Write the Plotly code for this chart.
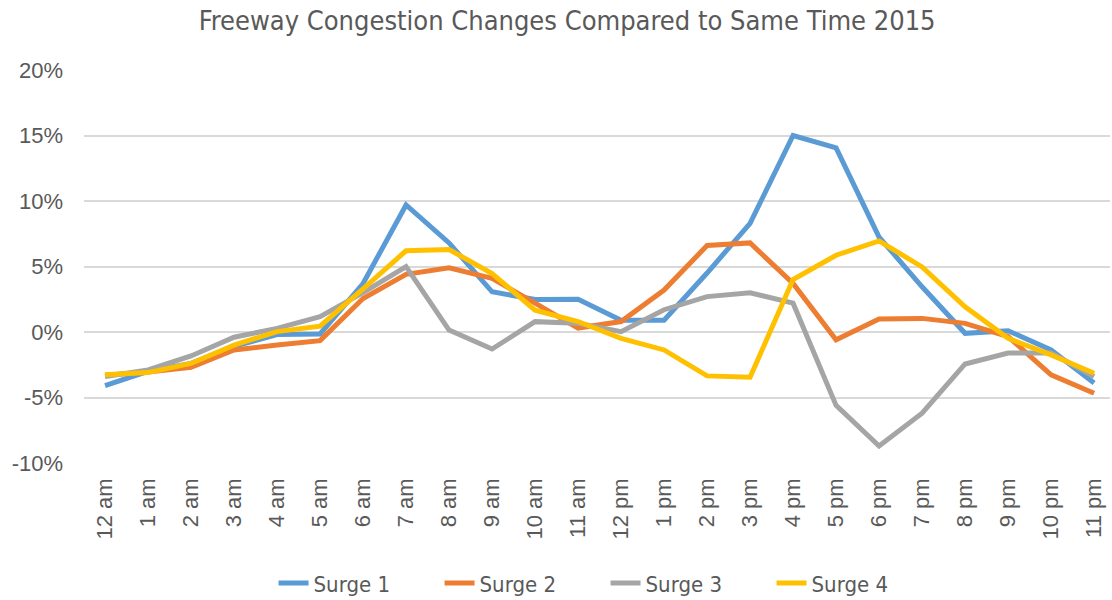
import plotly.graph_objects as go

hours = ["12 am", "1 am", "2 am", "3 am", "4 am", "5 am", "6 am", "7 am", "8 am", "9 am", "10 am", "11 am",
         "12 pm", "1 pm", "2 pm", "3 pm", "4 pm", "5 pm", "6 pm", "7 pm", "8 pm", "9 pm", "10 pm", "11 pm"]

surge1 = [-4.1, -3.0, -2.4, -1.1, -0.2, -0.15, 3.7, 9.7, 6.8, 3.07, 2.49, 2.5,
          0.9, 0.9, 4.5, 8.3, 15.0, 14.05, 7.25, 3.45, -0.1, 0.1, -1.37, -3.9]
surge2 = [-3.3, -3.05, -2.7, -1.37, -1.0, -0.66, 2.56, 4.4, 4.9, 4.1, 2.2, 0.3,
          0.8, 3.2, 6.6, 6.8, 3.7, -0.6, 1.0, 1.04, 0.66, -0.35, -3.27, -4.67]
surge3 = [-3.4, -2.9, -1.83, -0.4, 0.28, 1.17, 3.0, 5.0, 0.15, -1.3, 0.79, 0.66,
          0.03, 1.7, 2.7, 3.0, 2.2, -5.6, -8.7, -6.2, -2.44, -1.6, -1.6, -3.4]
surge4 = [-3.27, -3.1, -2.4, -1.0, 0.03, 0.45, 3.3, 6.2, 6.3, 4.46, 1.67, 0.8,
          -0.48, -1.37, -3.35, -3.45, 4.0, 5.86, 6.95, 4.97, 1.93, -0.48, -1.75, -3.15]

y_tick_values = [-10, -5, 0, 5, 10, 15, 20]
y_tick_labels = ["-10%", "-5%", "0%", "5%", "10%", "15%", "20%"]

names = ["Surge 1", "Surge 2", "Surge 3", "Surge 4"]
series = [surge1, surge2, surge3, surge4]
colors = ["#5B9BD5", "#ED7D31", "#A5A5A5", "#FFC000"]

cond_font = "DejaVu Sans Condensed, Liberation Sans Narrow, sans-serif"
tick_font = "Liberation Sans, Arial, sans-serif"
text_color = "#595959"

fig = go.Figure()
for n, s, c in zip(names, series, colors):
    fig.add_trace(go.Scatter(x=hours, y=s, name=n, mode="lines",
                             line=dict(color=c, width=5, shape="linear")))

fig.update_layout(
    width=1112, height=600,
    paper_bgcolor="white", plot_bgcolor="white",
    margin=dict(l=84, r=2, t=70, b=137, autoexpand=False),
    title=dict(text="Freeway Congestion Changes Compared to Same Time 2015",
               x=0.51, xanchor="center", y=0.965, yanchor="middle",
               font=dict(family=cond_font, size=27, color=text_color)),
    font=dict(family=cond_font, color=text_color, size=19),
    legend=dict(orientation="h", xref="container", yref="container",
                x=0.246, xanchor="left", y=0.028, yanchor="middle",
                font=dict(family=cond_font, size=22, color=text_color),
                entrywidth=121, traceorder="normal"),
    showlegend=True,
)
fig.update_xaxes(type="category", tickangle=-90, showgrid=False, zeroline=False,
                 showline=False, ticks="", tickfont=dict(family=tick_font, size=22, color=text_color),
                 range=[-0.489, 23.37], automargin=False, ticklabelstandoff=10)
fig.update_yaxes(range=[-10, 20], tickvals=y_tick_values, ticktext=y_tick_labels,
                 showgrid=True, gridcolor="#D9D9D9", gridwidth=1.5, zeroline=False,
                 showline=False, ticks="", tickfont=dict(family=tick_font, size=22, color=text_color),
                 ticklabelstandoff=20, automargin=False)

fig.write_html("out.html", config={"displayModeBar": False},
               post_script="document.body.style.margin='0px';")
